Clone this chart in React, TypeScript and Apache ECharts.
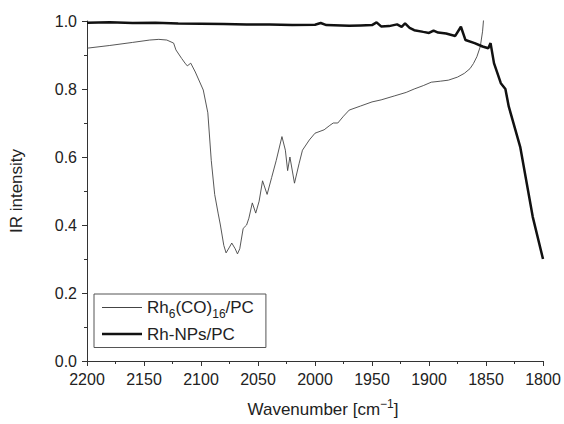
import React, { useEffect, useRef } from "react";
import * as echarts from "echarts";

const thinX = [2200, 2180, 2160, 2145, 2137, 2130, 2124, 2122, 2117, 2114, 2112, 2109, 2105, 2098, 2094, 2091, 2088, 2085, 2083, 2080, 2078, 2075, 2073, 2070, 2068, 2066, 2063, 2060, 2058, 2055, 2052, 2049, 2046, 2042, 2038, 2034, 2029, 2026, 2024, 2022, 2018, 2014, 2011, 2005, 2000, 1992, 1987, 1984, 1980, 1975, 1970, 1960, 1950, 1942, 1930, 1920, 1913, 1905, 1898, 1890, 1883, 1875, 1869, 1864, 1861, 1858, 1855, 1853, 1852];
const thinY = [0.920, 0.928, 0.937, 0.944, 0.946, 0.944, 0.935, 0.915, 0.89, 0.876, 0.868, 0.876, 0.85, 0.797, 0.73, 0.59, 0.49, 0.435, 0.40, 0.34, 0.318, 0.335, 0.347, 0.33, 0.315, 0.33, 0.39, 0.40, 0.42, 0.465, 0.435, 0.47, 0.53, 0.49, 0.54, 0.59, 0.66, 0.62, 0.56, 0.60, 0.523, 0.58, 0.62, 0.65, 0.67, 0.68, 0.693, 0.70, 0.70, 0.72, 0.738, 0.75, 0.762, 0.768, 0.78, 0.79, 0.80, 0.81, 0.82, 0.823, 0.826, 0.835, 0.846, 0.86, 0.875, 0.895, 0.925, 0.97, 1.01];

const thickX = [2200, 2180, 2160, 2140, 2120, 2100, 2080, 2060, 2040, 2020, 2000, 1995, 1990, 1970, 1960, 1950, 1946, 1942, 1935, 1928, 1924, 1921, 1917, 1913, 1905, 1900, 1896, 1892, 1885, 1877, 1872, 1868, 1860, 1853, 1848, 1846, 1843, 1837, 1833, 1830, 1820, 1809, 1800];
const thickY = [0.995, 0.996, 0.994, 0.995, 0.993, 0.992, 0.991, 0.990, 0.990, 0.988, 0.989, 0.994, 0.988, 0.986, 0.987, 0.988, 0.996, 0.984, 0.985, 0.99, 0.983, 0.993, 0.98, 0.973, 0.968, 0.965, 0.972, 0.966, 0.963, 0.956, 0.983, 0.944, 0.935, 0.925, 0.92, 0.935, 0.876, 0.817, 0.80, 0.748, 0.63, 0.424, 0.30];

const seriesNames = ["Rh6(CO)16/PC", "Rh-NPs/PC"];
const xTicks = { min: 1800, max: 2200, interval: 50 };
const yTicks = { min: 0, max: 1.0, interval: 0.2 };

const FONT = "'Liberation Sans', Arial, sans-serif";

export default function App() {
  const ref = useRef<HTMLDivElement>(null);
  useEffect(() => {
    if (!ref.current) return;
    const chart = echarts.init(ref.current, null, { renderer: "svg" });
    const axisCommon = {
      axisLine: { show: true, lineStyle: { color: "#333", width: 1 } },
      axisTick: { show: true, inside: false, length: 5, lineStyle: { color: "#333" } },
      minorTick: { show: true, splitNumber: 2, length: 3, lineStyle: { color: "#333" } },
      splitLine: { show: false },
    };
    chart.setOption({
      animation: false,
      backgroundColor: "#fff",
      textStyle: { fontFamily: FONT },
      grid: { left: 83, right: 21, top: 21, bottom: 63, containLabel: false },
      xAxis: {
        type: "value",
        inverse: true,
        min: xTicks.min,
        max: xTicks.max,
        interval: xTicks.interval,
        ...axisCommon,
        axisLabel: { fontSize: 16, color: "#222", margin: 10, fontFamily: FONT, formatter: (v: number) => String(v) },
        name: "Wavenumber [cm{sup|−1}]",
        nameLocation: "middle",
        nameGap: 37,
        nameTextStyle: {
          fontSize: 17,
          color: "#222",
          fontFamily: FONT,
          padding: [0, 0, 0, 16],
          rich: { sup: { fontSize: 12, padding: [0, 0, 10, 0], fontFamily: FONT, color: "#222" } },
        },
      },
      yAxis: {
        type: "value",
        min: yTicks.min,
        max: yTicks.max,
        interval: yTicks.interval,
        ...axisCommon,
        axisLabel: { fontSize: 16, color: "#222", margin: 10, fontFamily: FONT, formatter: (v: number) => v.toFixed(1) },
        name: "IR intensity",
        nameLocation: "middle",
        nameGap: 62,
        nameTextStyle: { fontSize: 17, color: "#222", fontFamily: FONT },
      },
      legend: {
        show: true,
        orient: "vertical",
        left: 94,
        top: 294,
        padding: [5, 12, 5, 8],
        itemGap: 6,
        itemWidth: 40,
        itemHeight: 14,
        symbolKeepAspect: true,
        borderColor: "#555",
        borderWidth: 1,
        data: [
          { name: seriesNames[0], icon: "path://M0 0H40V1H0Z" },
          { name: seriesNames[1], icon: "path://M0 0H40V2.5H0Z" },
        ],
        textStyle: {
          fontSize: 17,
          color: "#222",
          fontFamily: FONT,
          rich: {
            n: { fontSize: 17, color: "#222", fontFamily: FONT },
            s: { fontSize: 12, color: "#222", fontFamily: FONT, padding: [12, 0, 0, 0] },
          },
        },
        formatter: (name: string) =>
          name === "Rh6(CO)16/PC" ? "{n|Rh}{s|6}{n|(CO)}{s|16}{n|/PC}" : "{n|" + name + "}",
      },
      series: [
        {
          name: seriesNames[0],
          type: "line",
          symbol: "none",
          clip: true,
          data: thinX.map((x, i) => [x, thinY[i]]),
          lineStyle: { color: "#444", width: 0.9 },
          itemStyle: { color: "#444" },
        },
        {
          name: seriesNames[1],
          type: "line",
          symbol: "none",
          clip: true,
          data: thickX.map((x, i) => [x, thickY[i]]),
          lineStyle: { color: "#111", width: 2.5 },
          itemStyle: { color: "#111" },
        },
      ],
    });
    return () => chart.dispose();
  }, []);
  return <div ref={ref} style={{ width: 564, height: 424, position: "absolute", left: 0, top: 0 }} />;
}
